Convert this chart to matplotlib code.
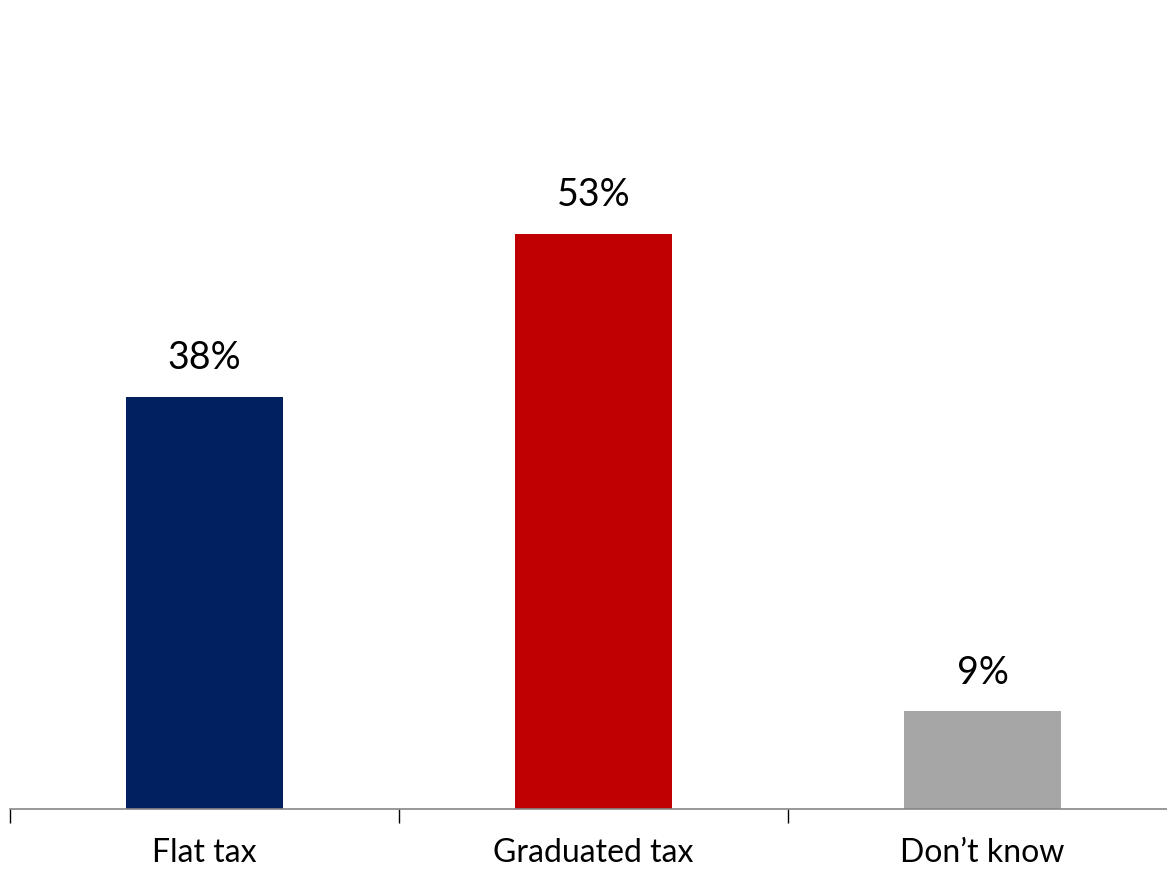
import matplotlib
matplotlib.use("Agg")
import matplotlib.pyplot as plt

# survey answers
categories = ["Flat tax", "Graduated tax", "Don\u2019t know"]
values = [38, 53, 9]
colors = ["#002060", "#C00000", "#A6A6A6"]

plt.rcParams["font.family"] = ["Lato", "DejaVu Sans"]

fig = plt.figure(figsize=(11.67, 8.69), dpi=100)
# axes runs a bit past the right edge, like the original
ax = fig.add_axes([10 / 1167, (869 - 809) / 869, 1167 / 1167, 651 / 869])

x = list(range(len(categories)))
ax.bar(x, values, width=0.405, color=colors)
ax.set_xlim(-0.5, 2.5)
ax.set_ylim(0, 60)

for xi, v in zip(x, values):
    ax.annotate(f"{v}%", (xi, v), xytext=(0, 15), textcoords="offset points",
                ha="center", va="bottom", fontsize=27, color="#000000")

ax.set_xticks([-0.5, 0.5, 1.5])
ax.set_xticklabels([])
ax.tick_params(axis="x", direction="out", length=10, color="#000000", width=1)
ax.set_xticks(x, minor=True)
ax.set_xticklabels(categories, minor=True, fontsize=23)
ax.tick_params(axis="x", which="minor", length=0, pad=21)

ax.set_yticks([])
for side in ["top", "right", "left"]:
    ax.spines[side].set_visible(False)
ax.spines["bottom"].set_color("#868686")
ax.spines["bottom"].set_linewidth(1.2)

fig.savefig("out.png", dpi=100)
